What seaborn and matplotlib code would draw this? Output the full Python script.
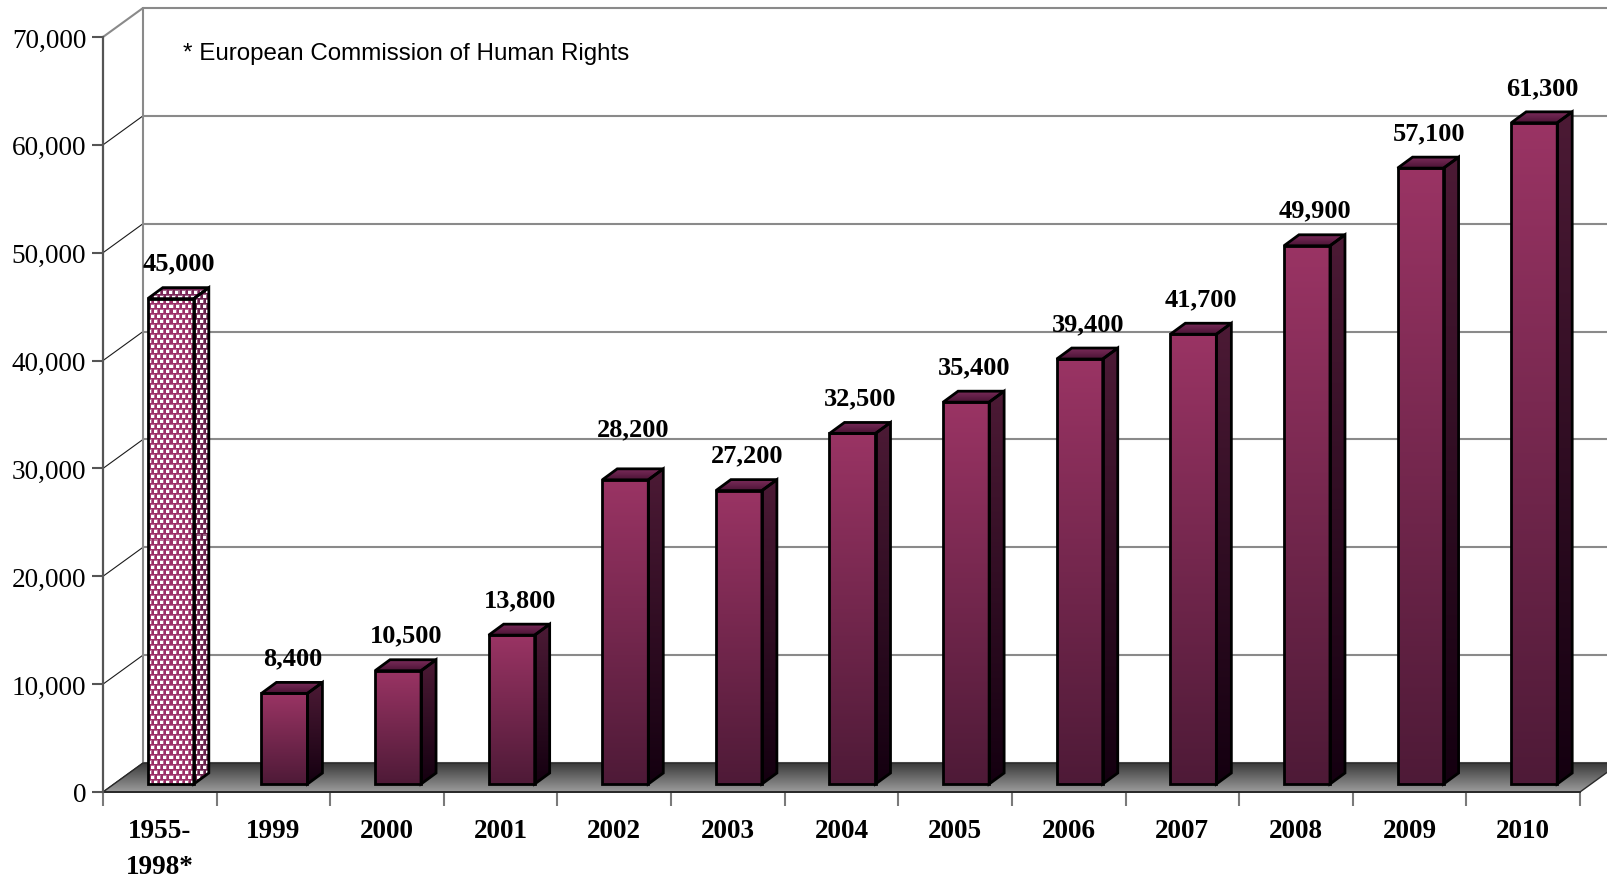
import numpy as np
import pandas as pd
import matplotlib
matplotlib.use("Agg")
import matplotlib.pyplot as plt
import seaborn as sns
from matplotlib.colors import LinearSegmentedColormap, to_rgb
from matplotlib.patches import Polygon

# Applications allocated to a judicial formation, per period
categories = ["1955-\n1998*", "1999", "2000", "2001", "2002", "2003", "2004",
              "2005", "2006", "2007", "2008", "2009", "2010"]
applications = [45000, 8400, 10500, 13800, 28200, 27200, 32500, 35400,
                39400, 41700, 49900, 57100, 61300]
y_ticks = [0, 10000, 20000, 30000, 40000, 50000, 60000, 70000]
footnote = "* European Commission of Human Rights"

# extra lift (pixels) for value labels that sit higher than the rest
label_lift_px = {"2002": 16}

W, H, DPI = 1607, 878, 100
sns.set_style("white")
plt.rcParams["font.family"] = ["Liberation Serif", "DejaVu Serif"]
plt.rcParams["text.color"] = "black"
plt.rcParams["xtick.labelcolor"] = "black"
plt.rcParams["ytick.labelcolor"] = "black"

fig = plt.figure(figsize=(W / DPI, H / DPI), dpi=DPI)
# front plane of the oblique box (pixel corners)
X0, X1, Y0, Y1 = 103, 1580, 793, 38
ax = fig.add_axes([X0 / W, (H - Y0) / H, (X1 - X0) / W, (Y0 - Y1) / H])

n = len(categories)
ymax = y_ticks[-1]
px_x = (X1 - X0) / n        # pixels per category slot
px_y = (Y0 - Y1) / ymax     # pixels per application


def depth(dx_px, dy_px):
    """Oblique depth offset expressed in data units."""
    return dx_px / px_x, dy_px / px_y


wall_dx, wall_dy = depth(40, 29)
bar_ox, bar_oy = depth(11, 8)
bar_dx, bar_dy = depth(15, 11)
BAR_W = 0.405
EDGE = 2.0

df = pd.DataFrame({"period": categories, "applications": applications})
sns.barplot(data=df, x="period", y="applications", width=BAR_W, ax=ax,
            color="#9a3464", saturation=1, edgecolor="black",
            linewidth=EDGE, zorder=4)
bars = list(ax.patches)


def gradient(poly, c_bottom, c_top, extent, zorder, outside=False):
    cmap = LinearSegmentedColormap.from_list("shade", [c_bottom, c_top])
    im = ax.imshow(np.linspace(0, 1, 256).reshape(-1, 1), cmap=cmap,
                   origin="lower", aspect="auto", extent=extent,
                   interpolation="bilinear", zorder=zorder)
    im.set_clip_path(poly)
    if outside:
        im.set_clip_box(fig.bbox)


def texture(poly, base, extent, zorder):
    """Confetti fill: staggered white squares on a solid colour."""
    w_px = max(int(round((extent[1] - extent[0]) * px_x)), 1)
    h_px = max(int(round((extent[3] - extent[2]) * px_y)), 1)
    yy, xx = np.mgrid[0:h_px, 0:w_px]
    shift = (yy // 5 % 2) * 3
    cx = (xx + shift) % 6
    cy = yy % 5
    core = (cx < 3) & (cy < 3)
    halo = (cx < 4) & (cy < 4) & ~core
    rgb = np.array(to_rgb(base))
    img = np.empty((h_px, w_px, 3))
    img[:] = rgb
    img[halo] = 0.7 * rgb + 0.3
    img[core] = 1.0
    im = ax.imshow(img, origin="lower", aspect="auto", extent=extent,
                   interpolation="nearest", zorder=zorder)
    im.set_clip_path(poly)


# floor of the box
floor = Polygon([(-0.5, 0), (n - 0.5, 0), (n - 0.5 + wall_dx, wall_dy),
                 (-0.5 + wall_dx, wall_dy)], closed=True, facecolor="none",
                edgecolor="#2a2a2a", linewidth=1.0, zorder=1, clip_on=False)
ax.add_patch(floor)
gradient(floor, "#9c9c9c", "#3a3a3a",
         [-0.5, n - 0.5 + wall_dx, 0, wall_dy], 0.9, outside=True)

# back wall and left side wall gridlines
for t in y_ticks:
    ax.plot([-0.5 + wall_dx, n + 1], [t + wall_dy] * 2, color="#8a8a8a",
            lw=1.5, clip_on=False, zorder=0.5)
    ax.plot([-0.5, -0.5 + wall_dx], [t, t + wall_dy],
            color="#8a8a8a" if t == ymax else "#1a1a1a",
            lw=1.5 if t == ymax else 0.8, clip_on=False, zorder=0.5)
ax.plot([-0.5 + wall_dx] * 2, [wall_dy, ymax + wall_dy], color="#8a8a8a",
        lw=1.5, clip_on=False, zorder=0.5)

# 3-D prisms built on each seaborn bar
for i, (bar, v, cat) in enumerate(zip(bars, applications, categories)):
    x0 = bar.get_x() + bar_ox
    bar.set_x(x0)
    bar.set_y(bar_oy)
    bar.set_facecolor("none")
    x1 = x0 + bar.get_width()
    top = bar_oy + bar.get_height()

    side = Polygon([(x1, bar_oy), (x1 + bar_dx, bar_oy + bar_dy),
                    (x1 + bar_dx, top + bar_dy), (x1, top)], closed=True,
                   facecolor="none", edgecolor="black", linewidth=EDGE,
                   joinstyle="miter", zorder=4)
    lid = Polygon([(x0, top), (x1, top), (x1 + bar_dx, top + bar_dy),
                   (x0 + bar_dx, top + bar_dy)], closed=True,
                  facecolor="none", edgecolor="black", linewidth=EDGE,
                  joinstyle="miter", zorder=4)
    ax.add_patch(side)
    ax.add_patch(lid)

    front_ext = [x0, x1, bar_oy, top]
    side_ext = [x1, x1 + bar_dx, bar_oy, top + bar_dy]
    lid_ext = [x0, x1 + bar_dx, top, top + bar_dy]
    if i == 0:
        texture(bar, "#9c2f68", front_ext, 3)
        texture(side, "#6a214c", side_ext, 3)
        texture(lid, "#7a2858", lid_ext, 3)
    else:
        gradient(bar, "#4e1a37", "#9a3464", front_ext, 3)
        gradient(side, "#140010", "#4c1a35", side_ext, 3)
        gradient(lid, "#4a1434", "#7a2a5a", lid_ext, 3)

    lift = 29 + label_lift_px.get(cat, 0)
    ax.text((x0 + x1) / 2 + 8 / px_x, top + lift / px_y, f"{v:,}",
            ha="center", va="baseline", fontsize=19, fontweight="bold",
            color="black", zorder=6)

# axes, ticks and labels
ax.set_xlabel("")
ax.set_ylabel("")
ax.set_xticks(range(n))
ax.set_xticklabels(categories, fontsize=19.5, fontweight="bold",
                   linespacing=1.55, color="black")
ax.set_xticks(np.arange(n + 1) - 0.5, minor=True)
ax.tick_params(axis="x", which="major", length=0, pad=19, bottom=True)
ax.tick_params(axis="x", which="minor", length=10, width=1.5,
               color="#7a7a7a", direction="out", bottom=True)
ax.set_yticks(y_ticks)
ax.set_yticklabels([f"{t:,}" for t in y_ticks], fontsize=19.6, color="black")
ax.tick_params(axis="y", length=8, width=1.5, color="#555555", pad=4,
               left=True, direction="out")
for s in ("top", "right"):
    ax.spines[s].set_visible(False)
ax.spines["left"].set_color("#555555")
ax.spines["left"].set_linewidth(1.6)
ax.spines["bottom"].set_color("#2a2a2a")
ax.spines["bottom"].set_linewidth(1.4)
ax.spines["bottom"].set_zorder(2)
ax.set_facecolor("none")
ax.set_xlim(-0.5, n - 0.5)
ax.set_ylim(0, ymax)

fig.text(183 / W, 1 - 60 / H, footnote, family=["Liberation Sans"],
         fontsize=17.4, va="baseline", color="black")

fig.savefig("out.png", dpi=DPI, facecolor="white")
